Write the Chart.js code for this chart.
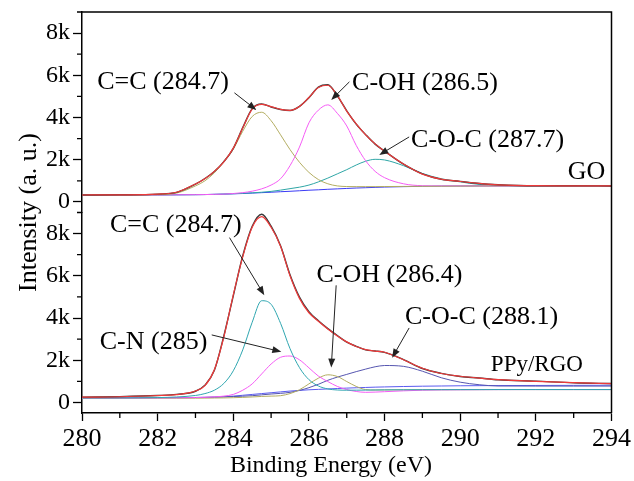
<!DOCTYPE html>
<html>
<head>
<meta charset="utf-8">
<script src="https://cdn.jsdelivr.net/npm/chart.js@4.4.0/dist/chart.umd.min.js"></script>
<style>
  html, body { margin: 0; padding: 0; background: #fff; }
</style>
</head>
<body>
<canvas id="xps" width="634" height="481"></canvas>
<script>
// Binding energy grid (eV), shared by both spectra
const energy = [280, 281, 282, 282.5, 283, 283.25, 283.5, 283.75, 284, 284.25, 284.5, 284.75, 285, 285.25, 285.5, 285.75,
  286, 286.25, 286.5, 286.75, 287, 287.25, 287.5, 287.75, 288, 288.5, 289, 289.5, 290, 290.5, 291, 292, 293, 294];

// GO (top panel)
const goRaw = [330, 338, 372, 455, 840, 1110, 1440, 1910, 2540, 3520, 4420, 4640, 4500, 4380, 4330, 4530,
  4940, 5440, 5550, 5030, 4320, 3690, 3190, 2740, 2410, 1790, 1330, 1070, 975, 875, 815, 768, 770, 758];
const goFit = [330, 335, 370, 460, 850, 1100, 1450, 1900, 2550, 3500, 4400, 4620, 4520, 4390, 4340, 4520,
  4950, 5420, 5530, 5050, 4300, 3700, 3175, 2750, 2400, 1800, 1320, 1080, 970, 880, 810, 770, 765, 760];
const goCC = [330, 330, 345, 420, 760, 1000, 1380, 1900, 2500, 3350, 4050, 4250, 3850, 3180, 2480, 1880,
  1400, 1060, 860, 760, 730, 725, 725, 725, 730, 735, 740, 745, 750, 755, 760, 760, 760, 760];
const goCOH = [330, 330, 335, 340, 345, 350, 360, 370, 400, 440, 510, 620, 800, 1100, 1720, 2600,
  3750, 4350, 4600, 4200, 3600, 2680, 1950, 1450, 1150, 860, 770, 760, 760, 760, 760, 760, 760, 760];
const goCOC = [330, 330, 335, 338, 345, 350, 360, 375, 390, 410, 430, 460, 500, 560, 630, 700,
  800, 950, 1130, 1330, 1530, 1750, 1930, 2020, 1990, 1720, 1350, 1100, 950, 830, 780, 760, 760, 760];
const goBg = [330, 330, 335, 340, 345, 350, 360, 370, 385, 400, 420, 440, 460, 485, 505, 530,
  555, 575, 600, 620, 640, 660, 675, 690, 705, 725, 740, 750, 755, 760, 760, 760, 760, 760];

// PPy/RGO (bottom panel)
const ppyRaw = [250, 275, 328, 380, 530, 820, 1520, 3150, 5050, 6950, 8350, 8920, 8350, 7420, 6050, 4990,
  4300, 3870, 3500, 3170, 2860, 2660, 2490, 2440, 2370, 2030, 1610, 1380, 1230, 1160, 1075, 1010, 930, 895];
const ppyFit = [250, 270, 330, 370, 540, 800, 1550, 3100, 5100, 6900, 8300, 8800, 8300, 7400, 6000, 4930,
  4250, 3850, 3480, 3150, 2870, 2650, 2500, 2430, 2380, 2020, 1620, 1370, 1240, 1150, 1080, 1000, 940, 890];
const ppyCC = [210, 215, 230, 260, 330, 420, 580, 900, 1500, 2490, 3800, 4820, 4650, 3750, 2550, 1650,
  1080, 780, 640, 590, 580, 582, 585, 590, 595, 600, 603, 605, 607, 608, 610, 610, 610, 610];
const ppyCN = [210, 212, 215, 220, 230, 245, 265, 300, 380, 580, 880, 1350, 1820, 2140, 2200, 2020,
  1640, 1250, 990, 760, 610, 520, 480, 490, 510, 550, 580, 595, 600, 605, 608, 610, 610, 610];
const ppyCOH = [200, 200, 200, 200, 200, 205, 210, 215, 225, 240, 260, 285, 300, 320, 420, 600,
  880, 1150, 1310, 1230, 990, 760, 610, 590, 595, 600, 603, 605, 607, 608, 610, 610, 610, 610];
const ppyCOC = [220, 222, 225, 228, 235, 240, 250, 265, 280, 295, 320, 360, 400, 430, 480, 570,
  700, 860, 1050, 1200, 1330, 1460, 1580, 1690, 1750, 1710, 1480, 1170, 960, 840, 780, 775, 775, 775];
const ppyBg = [220, 220, 225, 228, 235, 240, 250, 270, 300, 340, 380, 420, 460, 500, 540, 570,
  600, 620, 640, 660, 680, 695, 710, 725, 735, 755, 770, 780, 790, 795, 800, 805, 810, 815];

// Ticks
const xTickValues = [280, 281, 282, 283, 284, 285, 286, 287, 288, 289, 290, 291, 292, 293, 294];
const xTickLabels = ['280', '282', '284', '286', '288', '290', '292', '294'];
const yTickValues = [0, 1000, 2000, 3000, 4000, 5000, 6000, 7000, 8000, 9000];
const yTickLabels = ['0', '2k', '4k', '6k', '8k'];

// Peak labels (in data units of each panel) and their arrows
const labels = [
  { axis: 'yTop', text: 'C=C (284.7)', x: 280.40, y: 5690, size: 26 },
  { axis: 'yTop', text: 'C-OH (286.5)', x: 287.14, y: 5640, size: 26 },
  { axis: 'yTop', text: 'C-O-C (287.7)', x: 288.70, y: 2940, size: 26 },
  { axis: 'yTop', text: 'GO', x: 292.84, y: 1420, size: 26 },
  { axis: 'yBot', text: 'C=C (284.7)', x: 280.74, y: 8380, size: 26 },
  { axis: 'yBot', text: 'C-N (285)', x: 280.47, y: 2870, size: 26 },
  { axis: 'yBot', text: 'C-OH (286.4)', x: 286.20, y: 6020, size: 26 },
  { axis: 'yBot', text: 'C-O-C (288.1)', x: 288.54, y: 4050, size: 26 },
  { axis: 'yBot', text: 'PPy/RGO', x: 290.81, y: 1790, size: 23 }
];
const arrows = [
  { axis: 'yTop', from: [284.03, 5170], to: [284.61, 4360] },
  { axis: 'yTop', from: [287.07, 5690], to: [286.59, 4835] },
  { axis: 'yTop', from: [288.65, 3080], to: [287.86, 2230] },
  { axis: 'yBot', from: [283.90, 7810], to: [284.82, 5080] },
  { axis: 'yBot', from: [283.43, 3200], to: [285.27, 2400] },
  { axis: 'yBot', from: [286.72, 5550], to: [286.59, 1650] },
  { axis: 'yBot', from: [288.65, 3530], to: [288.20, 2120] }
];

const serif = '"Liberation Serif", "Times New Roman", serif';

function pts(values) {
  return energy.map((e, i) => ({ x: e, y: values[i] }));
}

function curve(label, values, color, axis, width) {
  return {
    label: label,
    data: pts(values),
    borderColor: color,
    borderWidth: width || 1,
    pointRadius: 0,
    fill: false,
    yAxisID: axis,
    cubicInterpolationMode: 'monotone'
  };
}

function isMajorY(v) {
  return v >= 0 && v <= 8000 && v % 2000 === 0;
}

function yScale() {
  return {
    type: 'linear',
    position: 'left',
    stack: 'panels',
    stackWeight: 1,
    min: -500,
    max: 9000,
    afterBuildTicks: s => { s.ticks = yTickValues.map(v => ({ value: v })); },
    ticks: {
      autoSkip: false,
      color: '#000',
      padding: 3,
      font: { family: serif, size: 24, lineHeight: 0.75 },
      callback: v => isMajorY(v) ? yTickLabels[v / 2000] : ''
    },
    grid: {
      drawOnChartArea: false,
      tickLength: 9,
      tickWidth: 1.3,
      tickColor: c => (c.tick && isMajorY(c.tick.value)) ? '#000' : 'rgba(0,0,0,0)'
    },
    border: { color: '#000', width: 1.5 },
    afterFit: s => { s.width = 82; }
  };
}

// Frame, minor ticks, axis titles and peak labels
const decorations = {
  id: 'decorations',
  afterDraw(chart) {
    const ctx = chart.ctx;
    const area = chart.chartArea;
    const x = chart.scales.x;
    ctx.save();
    ctx.strokeStyle = '#000';
    ctx.lineWidth = 1.5;
    ctx.beginPath();
    ctx.moveTo(area.left, area.top);
    ctx.lineTo(area.right, area.top);
    ctx.lineTo(area.right, area.bottom);
    ctx.stroke();

    // minor ticks
    ctx.lineWidth = 1.3;
    ctx.beginPath();
    xTickValues.filter(v => v % 2 === 1).forEach(v => {
      const px = x.getPixelForValue(v);
      ctx.moveTo(px, area.bottom);
      ctx.lineTo(px, area.bottom + 5);
    });
    ['yTop', 'yBot'].forEach(id => {
      const s = chart.scales[id];
      yTickValues.filter(v => v % 2000 === 1000).forEach(v => {
        const py = s.getPixelForValue(v);
        ctx.moveTo(area.left - 5, py);
        ctx.lineTo(area.left, py);
      });
    });
    ctx.stroke();

    ctx.fillStyle = '#000';
    ctx.textAlign = 'center';
    ctx.textBaseline = 'middle';
    ctx.font = '24px ' + serif;
    ctx.fillText('Binding Energy (eV)', 331, 466);

    ctx.font = '26px ' + serif;
    ctx.translate(29, (area.top + area.bottom) / 2);
    ctx.rotate(-Math.PI / 2);
    ctx.fillText('Intensity (a. u.)', 0, 0);
    ctx.setTransform(1, 0, 0, 1, 0, 0);

    ctx.textAlign = 'left';
    labels.forEach(l => {
      ctx.font = l.size + 'px ' + serif;
      ctx.fillText(l.text, x.getPixelForValue(l.x), chart.scales[l.axis].getPixelForValue(l.y));
    });

    ctx.strokeStyle = '#222';
    ctx.fillStyle = '#222';
    ctx.lineWidth = 1;
    arrows.forEach(a => {
      const s = chart.scales[a.axis];
      const x0 = x.getPixelForValue(a.from[0]), y0 = s.getPixelForValue(a.from[1]);
      const x1 = x.getPixelForValue(a.to[0]), y1 = s.getPixelForValue(a.to[1]);
      const ang = Math.atan2(y1 - y0, x1 - x0);
      const c = Math.cos(ang), sn = Math.sin(ang);
      ctx.beginPath();
      ctx.moveTo(x0, y0);
      ctx.lineTo(x1 - 6 * c, y1 - 6 * sn);
      ctx.stroke();
      ctx.beginPath();
      ctx.moveTo(x1, y1);
      ctx.lineTo(x1 - 9 * c + 3.5 * sn, y1 - 9 * sn - 3.5 * c);
      ctx.lineTo(x1 - 9 * c - 3.5 * sn, y1 - 9 * sn + 3.5 * c);
      ctx.closePath();
      ctx.fill();
    });
    ctx.restore();
  }
};

new Chart(document.getElementById('xps'), {
  type: 'line',
  data: {
    datasets: [
      curve('GO fit', goFit, '#ee3a3a', 'yTop', 1.2),
      curve('GO raw', goRaw, '#3a3a3a', 'yTop', 1.4),
      curve('C=C', goCC, '#b3ad62', 'yTop'),
      curve('C-OH', goCOH, '#f55cf5', 'yTop'),
      curve('C-O-C', goCOC, '#2fa6a6', 'yTop'),
      curve('GO background', goBg, '#3b3bf5', 'yTop'),
      curve('PPy/RGO fit', ppyFit, '#ee3a3a', 'yBot', 1.2),
      curve('PPy/RGO raw', ppyRaw, '#3a3a3a', 'yBot', 1.4),
      curve('C=C', ppyCC, '#2fa6b0', 'yBot'),
      curve('C-N', ppyCN, '#f55cf5', 'yBot'),
      curve('C-OH', ppyCOH, '#b3ad62', 'yBot'),
      curve('C-O-C', ppyCOC, '#5656b0', 'yBot'),
      curve('PPy/RGO background', ppyBg, '#5a5af0', 'yBot')
    ]
  },
  options: {
    responsive: false,
    animation: false,
    layout: { padding: { top: 12, right: 20, left: 0, bottom: 0 } },
    plugins: { legend: { display: false }, tooltip: { enabled: false } },
    scales: {
      x: {
        type: 'linear',
        position: 'bottom',
        min: 280,
        max: 294,
        afterBuildTicks: s => { s.ticks = xTickValues.map(v => ({ value: v })); },
        ticks: {
          autoSkip: false,
          maxRotation: 0,
          color: '#000',
          padding: 3,
          font: { family: serif, size: 26 },
          callback: v => (v % 2 === 0) ? xTickLabels[(v - 280) / 2] : ''
        },
        grid: {
          drawOnChartArea: false,
          tickLength: 8,
          tickWidth: 1.3,
          tickColor: c => (c.tick && c.tick.value % 2 === 0) ? '#000' : 'rgba(0,0,0,0)'
        },
        border: { color: '#000', width: 1.5 },
        afterFit: s => { s.height = 68; }
      },
      yBot: yScale(),
      yTop: yScale()
    }
  },
  plugins: [decorations]
});
</script>
</body>
</html>
